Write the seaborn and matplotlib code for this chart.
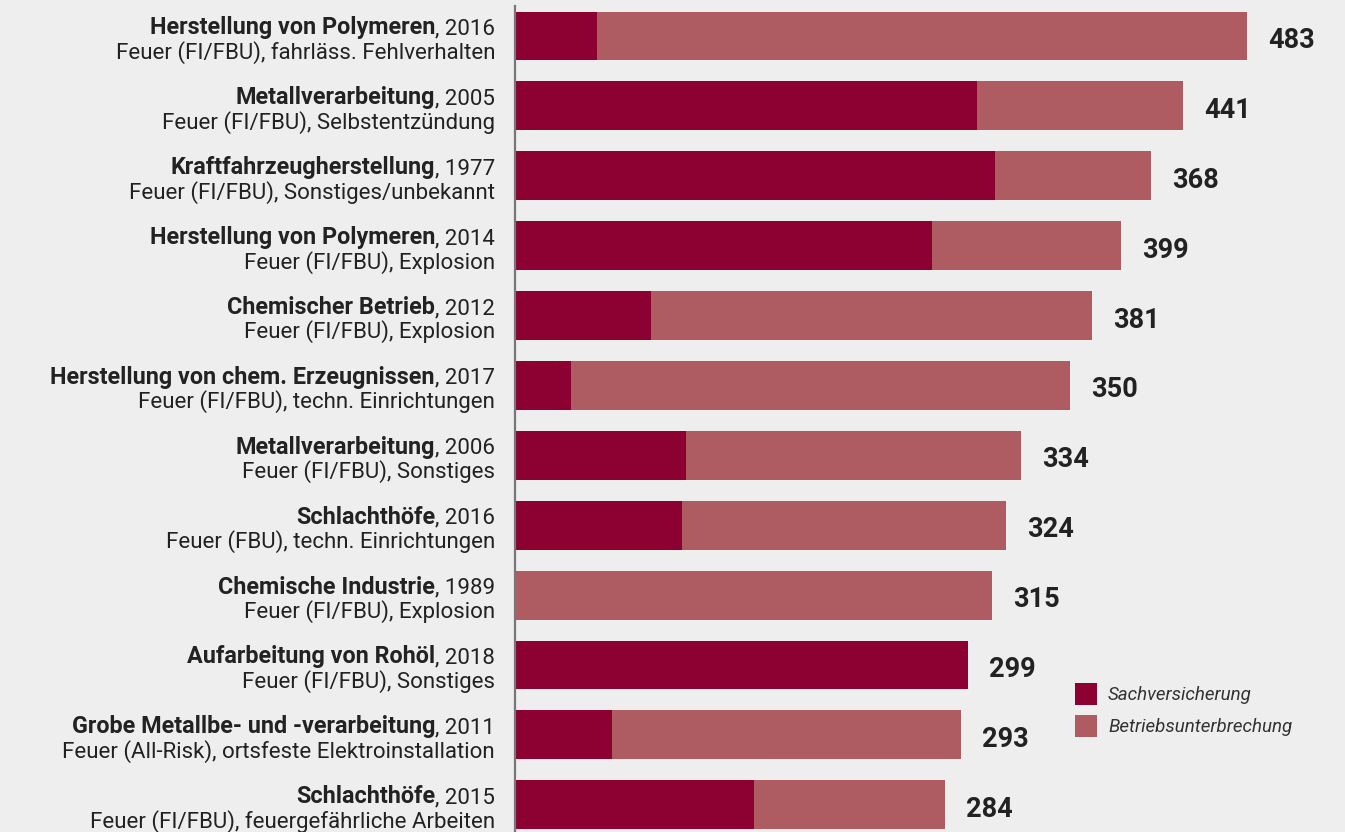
import numpy as np
import pandas as pd
import seaborn as sns
import matplotlib.pyplot as plt
from matplotlib.patches import Patch
import matplotlib.transforms as mtransforms

# ---- data ----
branchen = [
    "Herstellung von Polymeren", "Metallverarbeitung", "Kraftfahrzeugherstellung",
    "Herstellung von Polymeren", "Chemischer Betrieb", "Herstellung von chem. Erzeugnissen",
    "Metallverarbeitung", "Schlachthöfe", "Chemische Industrie", "Aufarbeitung von Rohöl",
    "Grobe Metallbe- und -verarbeitung", "Schlachthöfe",
]
jahre = ["2016", "2005", "1977", "2014", "2012", "2017", "2006", "2016", "1989", "2018", "2011", "2015"]
ursachen = [
    "Feuer (FI/FBU), fahrläss. Fehlverhalten",
    "Feuer (FI/FBU), Selbstentzündung",
    "Feuer (FI/FBU), Sonstiges/unbekannt",
    "Feuer (FI/FBU), Explosion",
    "Feuer (FI/FBU), Explosion",
    "Feuer (FI/FBU), techn. Einrichtungen",
    "Feuer (FI/FBU), Sonstiges",
    "Feuer (FBU), techn. Einrichtungen",
    "Feuer (FI/FBU), Explosion",
    "Feuer (FI/FBU), Sonstiges",
    "Feuer (All-Risk), ortsfeste Elektroinstallation",
    "Feuer (FI/FBU), feuergefährliche Arbeiten",
]
sachversicherung = [54, 305, 317, 275, 90, 37, 113, 110, 0, 299, 64, 158]
gesamt = [483, 441, 420, 400, 381, 366, 334, 324, 315, 299, 294, 284]
wert_labels = ["483", "441", "368", "399", "381", "350", "334", "324", "315", "299", "293", "284"]
serien = ["Sachversicherung", "Betriebsunterbrechung"]

# ---- style ----
BG = "#eeeeee"
DARK = "#8c0032"
LIGHT = "#af5b62"
TXT = "#222222"

sns.set_style("white", {"axes.facecolor": BG, "figure.facecolor": BG})
plt.rcParams["font.family"] = ["Roboto", "DejaVu Sans"]

W, H = 1345, 832
fig = plt.figure(figsize=(W / 100, H / 100), dpi=100)
ax = fig.add_axes([515 / W, 0, 1 - 515 / W, 1])

keys = [f"{b}, {j}" for b, j in zip(branchen, jahre)]
df = pd.DataFrame({"key": keys, "gesamt": gesamt, "sach": sachversicherung})

sns.barplot(data=df, y="key", x="gesamt", color=LIGHT, width=0.7, saturation=1,
            orient="h", ax=ax, linewidth=0, edgecolor="none")
sns.barplot(data=df, y="key", x="sach", color=DARK, width=0.7, saturation=1,
            orient="h", ax=ax, linewidth=0, edgecolor="none")

ax.set_xlim(0, 547.7)
ax.set_ylim(11.39, -0.515)
ax.set_xlabel("")
ax.set_ylabel("")
ax.set_xticks([])
ax.set_yticks([])
for s in ["top", "right", "bottom"]:
    ax.spines[s].set_visible(False)
ax.spines["left"].set_color("#777777")
ax.spines["left"].set_linewidth(1.6)
ax.spines["left"].set_bounds(11.39, -0.43)

# value labels
px_per_unit = (W - 515) / 547.7
row_px = 69.9
for i, (g, lab) in enumerate(zip(gesamt, wert_labels)):
    ax.text(g + 21 / px_per_unit, i + 12 / row_px, lab, ha="left", va="baseline",
            fontsize=19.5, fontweight="bold", color=TXT)

# category labels (bold name + regular year, second line cause)
renderer = fig.canvas.get_renderer()
tr = mtransforms.blended_transform_factory(fig.transFigure, ax.transData)
xr = 495 / W
FS = 16
for i, (b, j, u) in enumerate(zip(branchen, jahre, ursachen)):
    t_year = ax.text(xr, i - 1.5 / row_px, f", {j}", transform=tr, ha="right",
                     va="baseline", fontsize=FS, color=TXT)
    bb = t_year.get_window_extent(renderer)
    ax.text(bb.x0 / W, i - 1.5 / row_px, b, transform=tr, ha="right", va="baseline",
            fontsize=16.8, fontweight="bold", color=TXT)
    ax.text(xr, i + 22.8 / row_px, u, transform=tr, ha="right", va="baseline",
            fontsize=FS, color=TXT)

# legend
handles = [Patch(facecolor=DARK, edgecolor="none"), Patch(facecolor=LIGHT, edgecolor="none")]
leg = fig.legend(handles, serien, loc="upper left", bbox_to_anchor=(1075 / W, 1 - 683 / H),
                 frameon=False, borderpad=0, borderaxespad=0,
                 prop={"style": "italic", "size": 13.5}, handlelength=1.18, handleheight=1.45,
                 handletextpad=0.58, labelspacing=0.5)
for t in leg.get_texts():
    t.set_color("#333333")

fig.savefig("out.png", dpi=100, facecolor=BG)
